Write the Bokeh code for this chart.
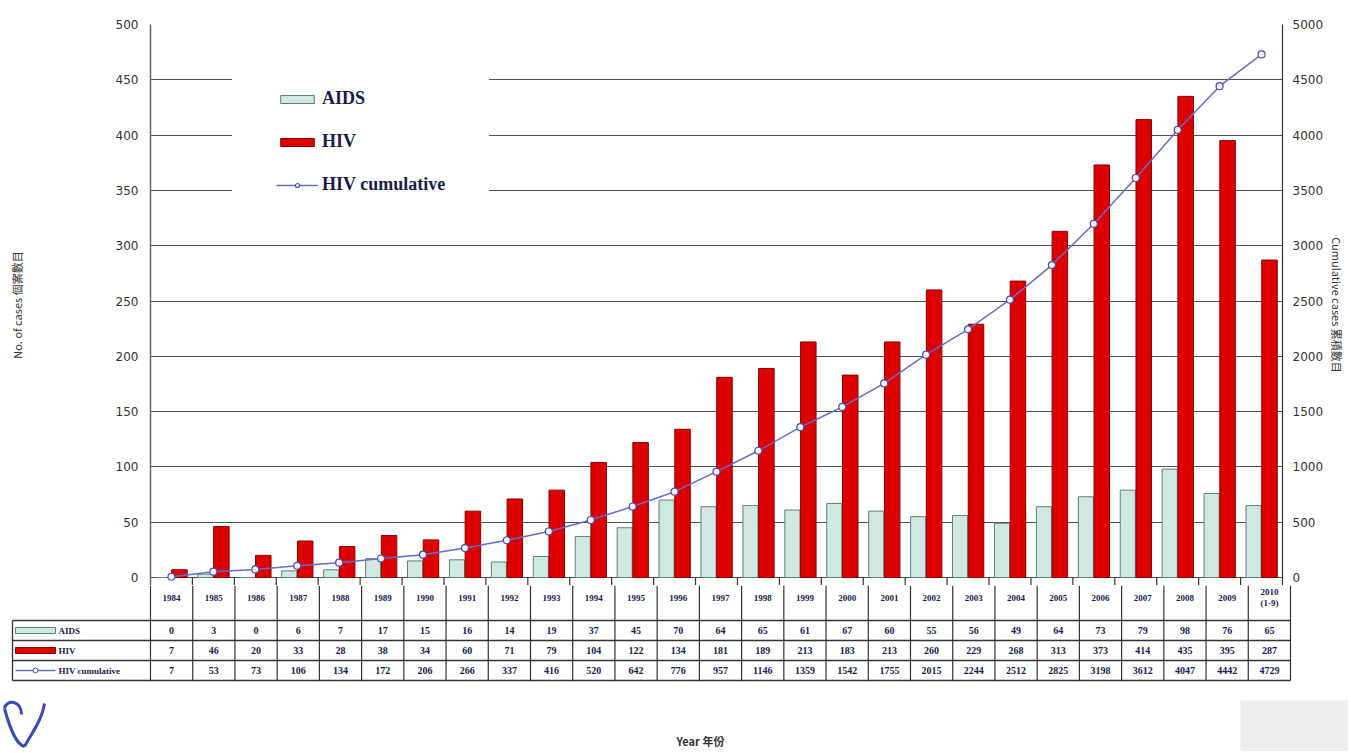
from bokeh.plotting import figure
from bokeh.models import Range1d, LinearAxis, FixedTicker, Legend, LegendItem
from bokeh.layouts import column
from bokeh.embed import file_html
from bokeh.resources import INLINE
from bokeh.core.properties import value

# ---------------- data ----------------
years = ["1984", "1985", "1986", "1987", "1988", "1989", "1990", "1991", "1992",
         "1993", "1994", "1995", "1996", "1997", "1998", "1999", "2000", "2001",
         "2002", "2003", "2004", "2005", "2006", "2007", "2008", "2009", "2010\n(1-9)"]
aids = [0, 3, 0, 6, 7, 17, 15, 16, 14, 19, 37, 45, 70, 64, 65, 61, 67, 60,
        55, 56, 49, 64, 73, 79, 98, 76, 65]
hiv = [7, 46, 20, 33, 28, 38, 34, 60, 71, 79, 104, 122, 134, 181, 189, 213, 183, 213,
       260, 229, 268, 313, 373, 414, 435, 395, 287]
hiv_cum = [7, 53, 73, 106, 134, 172, 206, 266, 337, 416, 520, 642, 776, 957, 1146, 1359,
           1542, 1755, 2015, 2244, 2512, 2825, 3198, 3612, 4047, 4442, 4729]
row_names = ["AIDS", "HIV", "HIV cumulative"]
left_ticks = list(range(0, 501, 50))
right_ticks = list(range(0, 5001, 500))

n = len(years)
idx = list(range(n))

# ---------------- layout constants (page px; canvas starts at 0,0) ----------------
W = 1348
FR_L, FR_R = 150, 1290
CW = (FR_R - FR_L) / n
TOP, ZERO, A_BOT = 24, 577, 585
PXU = (ZERO - TOP) / 500.0
YMIN = -(A_BOT - ZERO) / PXU

NAVY = "#1b1b4b"
GRID = "#4f4f4f"
RED = "#dd0000"
TEAL = "#cfe8e1"
LINEC = "#6a6ac8"

# ---------------- main chart ----------------
p = figure(width=W, height=A_BOT, x_range=Range1d(0, n), y_range=Range1d(YMIN, 500),
           output_backend="svg", toolbar_location=None,
           min_border_left=FR_L, min_border_right=W - FR_R,
           min_border_top=TOP, min_border_bottom=0,
           x_axis_location=None, frame_align=False)
p.extra_y_ranges = {"cum": Range1d(YMIN * 10, 5000)}
p.outline_line_color = None
p.xgrid.visible = False
p.background_fill_color = "white"

yax = p.yaxis[0]
yax.ticker = FixedTicker(ticks=left_ticks)
yax.major_tick_out = 0
yax.major_tick_in = 0
yax.minor_tick_out = 0
yax.minor_tick_in = 0
yax.major_label_standoff = 12
yax.major_label_text_font = "DejaVu Sans"
yax.major_label_text_font_size = "12px"
yax.major_label_text_color = "#333333"
yax.axis_line_color = "#666666"
yax.axis_line_width = 1.5
yax.axis_label = "No. of cases 個案數目"
yax.axis_label_text_font = "Noto Sans CJK TC"
yax.axis_label_text_font_size = "11px"
yax.axis_label_text_font_style = "normal"
yax.axis_label_text_color = "#333333"
yax.axis_label_standoff = 88

p.ygrid.ticker = FixedTicker(ticks=left_ticks)
p.ygrid.grid_line_color = GRID
p.ygrid.grid_line_width = 1.2

rax = LinearAxis(y_range_name="cum", ticker=FixedTicker(ticks=right_ticks))
rax.major_tick_out = 0
rax.major_tick_in = 0
rax.minor_tick_out = 0
rax.minor_tick_in = 0
rax.major_label_standoff = 10
rax.major_label_text_font = "DejaVu Sans"
rax.major_label_text_font_size = "12px"
rax.major_label_text_color = "#333333"
rax.axis_line_color = "#333333"
rax.axis_line_width = 1.2
rax.axis_label = "Cumulative cases 累積數目"
rax.axis_label_text_font = "Noto Sans CJK TC"
rax.axis_label_text_font_size = "11px"
rax.axis_label_text_font_style = "normal"
rax.axis_label_text_color = "#333333"
rax.axis_label_standoff = 3
p.add_layout(rax, "right")

x_aids = [i + 0.31 for i in idx]
x_hiv = [i + 0.69 for i in idx]
x_mid = [i + 0.5 for i in idx]

r_aids = p.vbar(x=x_aids, top=aids, bottom=0, width=0.36, fill_color=TEAL,
                line_color="#5e7f77", line_width=1)
r_hiv = p.vbar(x=x_hiv, top=hiv, bottom=0, width=0.37, fill_color=RED,
               line_color="#8b0000", line_width=1)
r_line = p.line(x=x_mid, y=hiv_cum, y_range_name="cum", line_color=LINEC, line_width=1.5)
r_pts = p.scatter(x=x_mid, y=hiv_cum, y_range_name="cum", marker="circle", size=7,
                  fill_color="#f4f4ff", line_color="#4c4caa", line_width=1.2)

# year-row separators (top part)
p.segment(x0=list(range(1, n)), y0=[YMIN] * (n - 1), x1=list(range(1, n)), y1=[0] * (n - 1),
          line_color="#333333", line_width=1.2)

legend = Legend(items=[LegendItem(label="AIDS", renderers=[r_aids]),
                       LegendItem(label="HIV", renderers=[r_hiv]),
                       LegendItem(label="HIV cumulative", renderers=[r_line, r_pts])],
                location=(82, 346), glyph_width=42, glyph_height=10, label_height=21,
                label_standoff=4, spacing=22, padding=44, margin=0,
                label_text_font="Liberation Serif", label_text_font_style="bold",
                label_text_font_size="18px", label_text_color=NAVY,
                border_line_alpha=0, background_fill_color="white", background_fill_alpha=1)
p.add_layout(legend)

# ---------------- data table + footer ----------------
B_H = 166
q = figure(width=W, height=B_H,
           x_range=Range1d((0 - FR_L) / CW, (W - FR_L) / CW),
           y_range=Range1d(-B_H, 0),
           output_backend="svg", toolbar_location=None, min_border=0,
           x_axis_type=None, y_axis_type=None, frame_align=False)
q.outline_line_color = None
q.background_fill_color = "white"


def yb(page_y):
    return -(page_y - A_BOT)


def xb(page_x):
    return (page_x - FR_L) / CW


row_top = 620
row_h = 20
LEG_L = xb(12)
table_bot = row_top + 3 * row_h

# horizontal lines
hy = [yb(row_top + k * row_h) for k in range(4)]
q.segment(x0=[LEG_L] * 4, y0=hy, x1=[n] * 4, y1=hy, line_color="#333333", line_width=1.3)
# vertical lines
q.segment(x0=list(range(0, n + 1)), y0=[0] * (n + 1), x1=list(range(0, n + 1)),
          y1=[yb(table_bot)] * (n + 1), line_color="#333333", line_width=1.2)
q.segment(x0=[LEG_L], y0=[yb(row_top)], x1=[LEG_L], y1=[yb(table_bot)],
          line_color="#333333", line_width=1.3)

# year labels
q.text(x=x_mid, y=[yb(597)] * n, text=years, text_align="center", text_baseline="middle",
       text_font=value("Liberation Serif"), text_font_style="bold",
       text_font_size="9px", text_color=NAVY, text_line_height=1.1)

# row values
centers = [yb(row_top + k * row_h + row_h / 2) for k in range(3)]
for k, vals in enumerate([aids, hiv, hiv_cum]):
    q.text(x=x_mid, y=[centers[k]] * n, text=[str(v) for v in vals],
           text_align="center", text_baseline="middle",
           text_font=value("Liberation Serif"), text_font_style="bold",
           text_font_size="10px", text_color=NAVY)

# row legend keys
q.quad(left=[xb(15)], right=[xb(55)], top=[centers[0] + 3], bottom=[centers[0] - 3],
       fill_color=TEAL, line_color="#5e7f77", line_width=1)
q.quad(left=[xb(15)], right=[xb(55)], top=[centers[1] + 3], bottom=[centers[1] - 3],
       fill_color=RED, line_color="#8b0000", line_width=1)
q.segment(x0=[xb(15)], y0=[centers[2]], x1=[xb(55)], y1=[centers[2]],
          line_color=LINEC, line_width=1.5)
q.scatter(x=[xb(35)], y=[centers[2]], marker="circle", size=5,
          fill_color="#f4f4ff", line_color="#4c4caa")
q.text(x=[xb(58)] * 3, y=centers, text=row_names, text_align="left", text_baseline="middle",
       text_font=value("Liberation Serif"), text_font_style="bold",
       text_font_size="9px", text_color=NAVY)

# x-axis title
q.text(x=[xb(700)], y=[yb(740)], text=["Year 年份"], text_align="center",
       text_baseline="middle", text_font=value("Noto Sans CJK TC"),
       text_font_size="11px", text_font_style="bold", text_color="#333333")

# grey box bottom right
q.quad(left=[xb(1240)], right=[xb(W)], top=[yb(700)], bottom=[-B_H],
       fill_color="#eeeeee", line_color=None)

# small logo bottom-left
q.bezier(x0=[xb(4), xb(24)], y0=[yb(708), yb(746)],
         x1=[xb(24), xb(44)], y1=[yb(746), yb(703)],
         cx0=[xb(10), xb(33)], cy0=[yb(730)] * 2,
         cx1=[xb(16), xb(42)], cy1=[yb(744), yb(718)],
         line_color="#3a4bb5", line_width=3)
q.bezier(x0=[xb(4)], y0=[yb(708)], x1=[xb(21)], y1=[yb(714)],
         cx0=[xb(6)], cy0=[yb(698)], cx1=[xb(21)], cy1=[yb(700)],
         line_color="#3a4bb5", line_width=3)

layout = column(p, q, spacing=0)
open("out.html", "w").write(file_html(layout, INLINE))
